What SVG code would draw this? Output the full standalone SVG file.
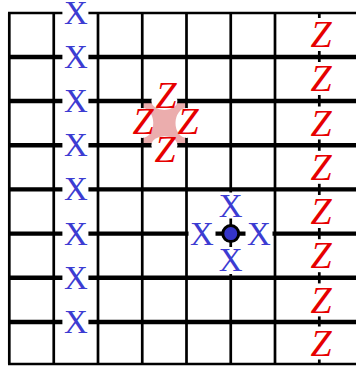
<svg xmlns="http://www.w3.org/2000/svg" width="356" height="371" viewBox="0 0 356 371">
<style>
.v{stroke:#000;stroke-width:2.7;fill:none}
.h{stroke:#000;stroke-width:4.4;fill:none}
.hb{stroke:#000;stroke-width:2.6;fill:none}
.bg{fill:#fff}
.x{font-family:"Liberation Serif","Times New Roman",serif;font-size:33px;fill:#3c3cd2;text-anchor:middle}
.z{font-family:"Liberation Serif","Times New Roman",serif;font-style:italic;font-size:38px;fill:#e60000;text-anchor:middle}
</style>
<rect width="356" height="371" fill="#fff"/>
<g id="plaquette">
<rect x="142.25" y="101" width="44.25" height="44.2" fill="#ebadad"/>
</g>
<g id="grid">
<path class="v" d="M9.3 13V364M53.75 13V364M98 13V364M142.25 13V364M186.5 13V364M230.75 13V364M275 13V364M319.3 13V364"/>
<path class="hb" d="M8 13H356M8 364H356"/>
<path class="h" d="M8 57H356M8 101H356M8 145.2H356M8 189.4H356M8 233.6H356M8 277.8H356M8 322H356"/>
</g>
<g id="x-column">
<rect class="bg" x="62.4" y="-0.5" width="26" height="27"/>
<rect class="bg" x="62.4" y="43.5" width="26" height="27"/>
<rect class="bg" x="62.4" y="87.5" width="26" height="27"/>
<rect class="bg" x="62.4" y="131.7" width="26" height="27"/>
<rect class="bg" x="62.4" y="175.9" width="26" height="27"/>
<rect class="bg" x="62.4" y="220.1" width="26" height="27"/>
<rect class="bg" x="62.4" y="264.3" width="26" height="27"/>
<rect class="bg" x="62.4" y="308.5" width="26" height="27"/>
<text class="x" x="75.9" y="24.4">X</text>
<text class="x" x="75.9" y="67.9">X</text>
<text class="x" x="75.9" y="111.9">X</text>
<text class="x" x="75.9" y="156.1">X</text>
<text class="x" x="75.9" y="200.3">X</text>
<text class="x" x="75.9" y="244.5">X</text>
<text class="x" x="75.9" y="288.7">X</text>
<text class="x" x="75.9" y="332.9">X</text>
</g>
<g id="z-column">
<rect class="bg" x="305.3" y="18" width="28" height="33"/>
<rect class="bg" x="305.3" y="62" width="28" height="33"/>
<rect class="bg" x="305.3" y="106.5" width="28" height="33"/>
<rect class="bg" x="305.3" y="150.8" width="28" height="33"/>
<rect class="bg" x="305.3" y="195" width="28" height="33"/>
<rect class="bg" x="305.3" y="239.2" width="28" height="33"/>
<rect class="bg" x="305.3" y="283.4" width="28" height="33"/>
<rect class="bg" x="305.3" y="326.5" width="28" height="33"/>
<text class="z" x="321" y="47.1">Z</text>
<text class="z" x="321" y="91.1">Z</text>
<text class="z" x="321" y="135.6">Z</text>
<text class="z" x="321" y="179.9">Z</text>
<text class="z" x="321" y="224.1">Z</text>
<text class="z" x="321" y="268.3">Z</text>
<text class="z" x="321" y="312.5">Z</text>
<text class="z" x="321" y="355.6">Z</text>
</g>
<g id="z-cluster">
<ellipse class="bg" cx="164.4" cy="101" rx="13" ry="9"/>
<ellipse class="bg" cx="164.4" cy="145.2" rx="13" ry="9"/>
<ellipse class="bg" cx="142.25" cy="123" rx="11" ry="15"/>
<ellipse class="bg" cx="186.5" cy="123" rx="11" ry="15"/>
<text class="z" x="166" y="107.6">Z</text>
<text class="z" x="143" y="134.3">Z</text>
<text class="z" x="188" y="134.3">Z</text>
<text class="z" x="165" y="161.6">Z</text>
</g>
<g id="x-cluster">
<rect class="bg" x="217.2" y="192.5" width="27" height="26"/>
<rect class="bg" x="217.2" y="247" width="27" height="27"/>
<rect class="bg" x="188.5" y="220.1" width="27" height="27"/>
<rect class="bg" x="245.5" y="220.1" width="27" height="27"/>
<text class="x" x="230.75" y="216.9">X</text>
<text class="x" x="230.75" y="270.9">X</text>
<text class="x" x="202" y="244.5">X</text>
<text class="x" x="259" y="244.5">X</text>
<circle cx="230.75" cy="233.6" r="8" fill="#3434c8" stroke="#000" stroke-width="3"/>
</g>
</svg>
